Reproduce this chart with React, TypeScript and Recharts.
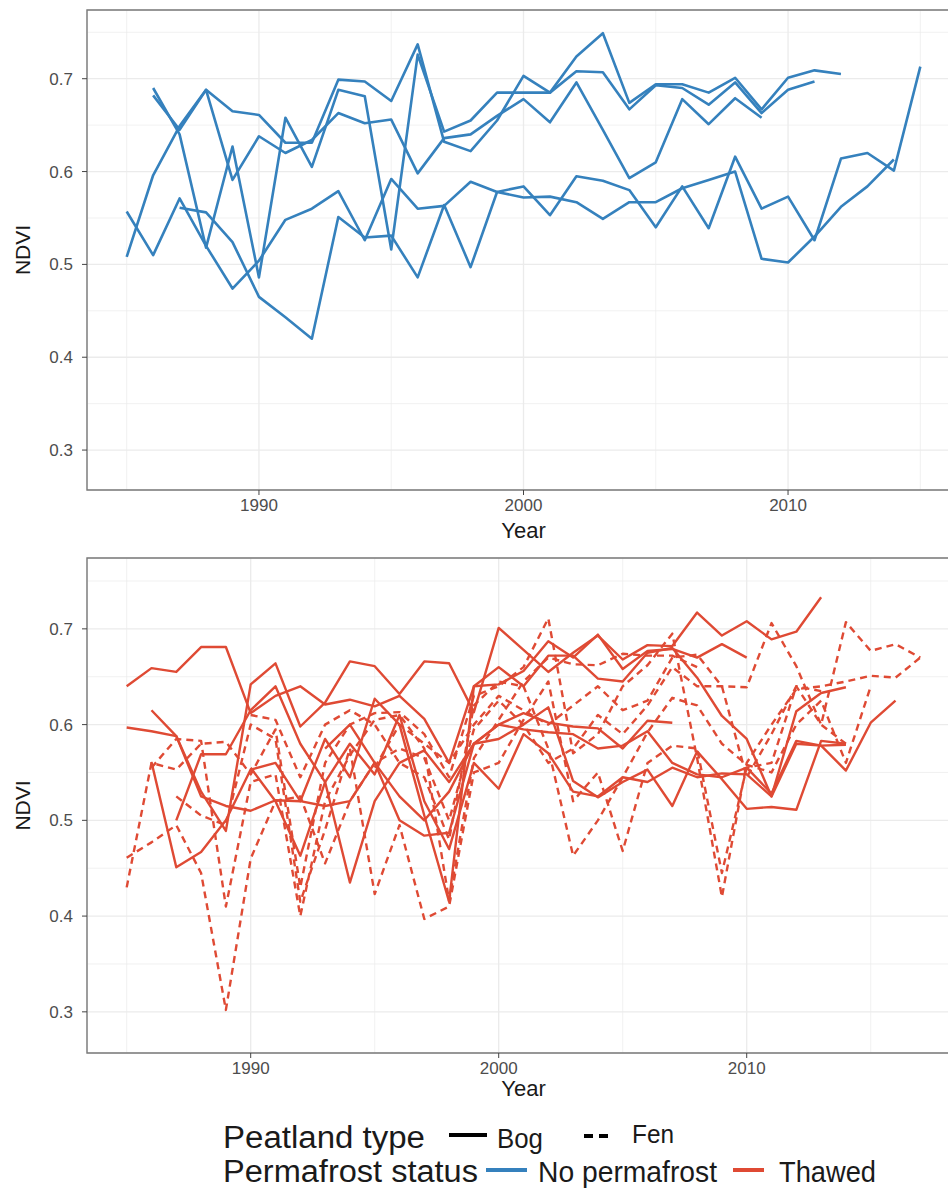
import React from 'react';
import { LineChart, Line, XAxis, YAxis, CartesianGrid, ReferenceArea } from 'recharts';

const FONT = '"Liberation Sans", Arial, sans-serif';
const BLUE = '#3581BD';
const RED = '#DF4A34';
const GRID = '#EBEBEB';
const FRAME = '#7a7a7a';

// x categories
const yearsTop = [1985, 1986, 1987, 1988, 1989, 1990, 1991, 1992, 1993, 1994, 1995, 1996, 1997, 1998, 1999, 2000, 2001, 2002, 2003, 2004, 2005, 2006, 2007, 2008, 2009, 2010, 2011, 2012, 2013, 2014, 2015];
const yearsBottom = [1985, 1986, 1987, 1988, 1989, 1990, 1991, 1992, 1993, 1994, 1995, 1996, 1997, 1998, 1999, 2000, 2001, 2002, 2003, 2004, 2005, 2006, 2007, 2008, 2009, 2010, 2011, 2012, 2013, 2014, 2015, 2016, 2017];

const yTicks = [0.3, 0.4, 0.5, 0.6, 0.7];
const yMinor = [0.35, 0.45, 0.55, 0.65, 0.75];
const xTicks = [1990, 2000, 2010];
const xMinor = [1985, 1995, 2005, 2015];

// No permafrost, bog (top panel), 1985-2015
const noPerm1 = [0.508, 0.596, 0.649, 0.688, 0.665, 0.661, 0.631, 0.631, 0.699, 0.697, 0.676, 0.737, 0.632, 0.622, 0.655, 0.703, 0.685, 0.724, 0.749, 0.674, 0.694, 0.694, 0.685, 0.701, 0.667, 0.701, 0.709, 0.705, null, null, null];
const noPerm2 = [null, 0.690, 0.640, 0.518, 0.627, 0.486, 0.658, 0.605, 0.688, 0.681, 0.516, 0.726, 0.643, 0.655, 0.685, 0.685, 0.685, 0.708, 0.707, 0.667, 0.693, 0.690, 0.672, 0.696, 0.663, 0.688, 0.697, null, null, null, null];
const noPerm3 = [null, 0.682, 0.645, 0.688, 0.591, 0.638, 0.620, 0.634, 0.663, 0.652, 0.656, 0.598, 0.636, 0.640, 0.660, 0.678, 0.653, 0.696, 0.645, 0.593, 0.610, 0.678, 0.651, 0.679, 0.658, null, null, null, null, null, null];
const noPerm4 = [null, null, 0.561, 0.556, 0.524, 0.465, 0.443, 0.420, 0.551, 0.529, 0.531, 0.486, 0.564, 0.497, 0.578, 0.572, 0.573, 0.567, 0.549, 0.567, 0.567, 0.582, 0.591, 0.600, 0.506, 0.502, 0.530, 0.562, 0.584, 0.613, null];
const noPerm5 = [0.557, 0.510, 0.571, 0.520, 0.474, 0.504, 0.548, 0.560, 0.579, 0.526, 0.592, 0.560, 0.563, 0.589, 0.578, 0.584, 0.553, 0.595, 0.590, 0.580, 0.540, 0.584, 0.539, 0.616, 0.560, 0.573, 0.526, 0.614, 0.620, 0.601, 0.713];

// Thawed, bog (solid), 1985-2017
const thawBog1 = [0.640, 0.659, 0.655, 0.681, 0.681, 0.612, 0.630, 0.640, 0.621, 0.626, 0.619, 0.630, 0.606, 0.560, 0.640, 0.642, 0.656, 0.687, 0.670, 0.694, 0.658, 0.677, 0.679, 0.670, 0.684, 0.670, null, null, null, null, null, null, null];
const thawBog2 = [0.597, 0.593, 0.588, 0.525, 0.515, 0.510, 0.521, 0.520, 0.515, 0.520, 0.560, 0.525, 0.500, 0.530, 0.580, 0.600, 0.595, 0.592, 0.590, 0.575, 0.578, 0.593, 0.560, 0.548, 0.545, 0.555, 0.528, 0.583, 0.578, 0.552, 0.602, 0.625, null];
const thawBog3 = [null, 0.615, 0.588, 0.530, 0.489, 0.642, 0.664, 0.598, 0.623, 0.666, 0.661, 0.632, 0.666, 0.664, 0.613, 0.701, 0.678, 0.655, 0.675, 0.693, 0.668, 0.683, 0.682, 0.717, 0.693, 0.708, 0.689, 0.697, 0.733, null, null, null, null];
const thawBog4 = [null, 0.561, 0.451, 0.467, 0.500, 0.553, 0.560, 0.520, 0.585, 0.545, 0.627, 0.600, 0.505, 0.415, 0.640, 0.660, 0.640, 0.672, 0.672, 0.648, 0.645, 0.675, 0.680, 0.649, 0.609, 0.585, 0.525, 0.614, 0.633, 0.639, null, null, null];
const thawBog5 = [null, null, 0.500, 0.569, 0.569, 0.615, 0.640, 0.580, 0.540, 0.435, 0.520, 0.560, 0.573, 0.540, 0.580, 0.585, 0.600, 0.618, 0.541, 0.524, 0.540, 0.553, 0.515, 0.572, 0.543, 0.512, 0.514, 0.511, 0.583, 0.580, null, null, null];
const thawBog6 = [null, null, null, null, null, 0.555, 0.520, 0.463, 0.540, 0.580, 0.548, 0.610, 0.520, 0.470, 0.560, 0.533, 0.590, 0.570, 0.530, 0.525, 0.545, 0.540, 0.555, 0.545, 0.549, 0.548, 0.525, 0.580, 0.578, 0.579, null, null, null];
const thawBog7 = [null, null, null, null, null, null, null, null, 0.575, 0.600, 0.560, 0.500, 0.484, 0.487, 0.580, 0.600, 0.612, 0.602, 0.598, 0.596, 0.575, 0.604, 0.602, null, null, null, null, null, null, null, null, null, null];

// Thawed, fen (dashed), 1985-2017
const thawFen1 = [0.430, 0.560, 0.553, 0.580, 0.582, 0.548, 0.595, 0.430, 0.560, 0.600, 0.612, 0.613, 0.590, 0.545, 0.630, 0.640, 0.660, 0.711, 0.570, 0.590, 0.640, 0.662, 0.695, 0.565, 0.420, 0.560, 0.600, 0.637, 0.640, 0.645, 0.651, 0.649, 0.670];
const thawFen2 = [0.461, 0.477, 0.495, 0.445, 0.302, 0.460, 0.520, 0.525, 0.455, 0.520, 0.560, 0.575, 0.565, 0.500, 0.595, 0.625, 0.600, 0.560, 0.575, 0.610, 0.590, 0.620, 0.660, 0.640, 0.640, 0.639, 0.706, 0.661, 0.600, 0.707, 0.677, 0.684, 0.670];
const thawFen3 = [null, 0.555, 0.585, 0.583, 0.410, 0.540, 0.548, 0.400, 0.520, 0.568, 0.605, 0.610, 0.575, 0.416, 0.565, 0.605, 0.645, 0.670, 0.663, 0.662, 0.674, 0.672, 0.672, 0.660, null, null, null, null, null, null, null, null, null];
const thawFen4 = [null, null, 0.525, 0.505, 0.495, 0.600, 0.585, 0.415, 0.490, 0.575, 0.423, 0.495, 0.397, 0.410, 0.550, 0.560, 0.605, 0.645, 0.520, 0.550, 0.468, 0.560, 0.578, 0.575, 0.445, 0.555, 0.560, 0.640, 0.600, 0.580, null, null, null];
const thawFen5 = [null, null, null, null, null, 0.610, 0.605, 0.545, 0.600, 0.615, 0.600, 0.560, 0.545, 0.480, 0.620, 0.645, 0.640, 0.575, 0.463, 0.500, 0.545, 0.592, 0.628, 0.620, 0.580, 0.558, 0.550, 0.600, 0.625, 0.560, 0.640, null, null];
const thawFen6 = [null, null, null, null, null, null, null, null, null, null, 0.555, 0.600, 0.580, 0.560, 0.600, 0.630, 0.615, 0.600, 0.620, 0.640, 0.615, 0.625, 0.670, 0.673, 0.640, 0.545, 0.590, 0.640, 0.635, null, null, null, null];

const topSeries = [noPerm1, noPerm2, noPerm3, noPerm4, noPerm5];
const bogSeries = [thawBog1, thawBog2, thawBog3, thawBog4, thawBog5, thawBog6, thawBog7];
const fenSeries = [thawFen1, thawFen2, thawFen3, thawFen4, thawFen5, thawFen6];

const topRows = yearsTop.map((year, i) => {
  const row: any = { year };
  topSeries.forEach((s, k) => { row['np' + k] = s[i]; });
  return row;
});

const bottomRows = yearsBottom.map((year, i) => {
  const row: any = { year };
  bogSeries.forEach((s, k) => { row['bog' + k] = s[i]; });
  fenSeries.forEach((s, k) => { row['fen' + k] = s[i]; });
  return row;
});

const tickStyle = { fill: '#4D4D4D', fontSize: 17, fontFamily: FONT };

const ndviLabel = (props: any) => {
  const vb = props.viewBox;
  const cy = vb.y + vb.height / 2;
  return (
    <text x={22} y={cy} transform={`rotate(-90 22 ${cy})`} textAnchor="middle" dominantBaseline="central"
      fontSize={21} fontFamily={FONT} fill="#1a1a1a">NDVI</text>
  );
};

const yearLabel = (props: any) => {
  const vb = props.viewBox;
  return (
    <text x={vb.x + vb.width / 2} y={vb.y + vb.height - 7} textAnchor="middle"
      fontSize={22} fontFamily={FONT} fill="#1a1a1a">Year</text>
  );
};

function Panel({ rows, xDomain, top, height, children }: any) {
  return (
    <LineChart width={1000} height={height} data={rows} margin={{ top, right: 40, bottom: 0, left: 0 }}>
      <CartesianGrid stroke={GRID} strokeWidth={0.7} horizontalValues={yMinor} verticalValues={xMinor} />
      <CartesianGrid stroke={GRID} strokeWidth={1.3} />
      <XAxis dataKey="year" type="number" domain={xDomain} ticks={xTicks} allowDataOverflow
        height={height - top - (top === 10 ? 480 : 495)} tickSize={5} tickMargin={4}
        axisLine={false} tickLine={{ stroke: '#444' }} tick={tickStyle} label={yearLabel} />
      <YAxis type="number" domain={[0.257, 0.774]} ticks={yTicks} allowDataOverflow width={87}
        tickSize={5} tickMargin={9} axisLine={false} tickLine={{ stroke: '#444' }} tick={tickStyle}
        tickFormatter={(v: number) => v.toFixed(1)} label={ndviLabel} />
      {children}
      <ReferenceArea x1={xDomain[0]} x2={xDomain[1]} y1={0.257} y2={0.774} fill="none"
        stroke={FRAME} strokeWidth={1.4} ifOverflow="visible" />
    </LineChart>
  );
}

function Legend() {
  return (
    <svg width={948} height={90} style={{ position: 'absolute', left: 0, top: 1100 }} fontFamily={FONT}>
      <text x={223} y={48} fontSize={31} fill="#1a1a1a" textLength={202} lengthAdjust="spacingAndGlyphs">Peatland type</text>
      <line x1={449} x2={487} y1={35} y2={35} stroke="#000" strokeWidth={4} />
      <text x={497} y={48} fontSize={27} fill="#1a1a1a" textLength={46} lengthAdjust="spacingAndGlyphs">Bog</text>
      <line x1={584} x2={612} y1={36} y2={36} stroke="#000" strokeWidth={4} strokeDasharray="9 6" />
      <text x={632} y={43} fontSize={26} fill="#1a1a1a" textLength={42} lengthAdjust="spacingAndGlyphs">Fen</text>
      <text x={223} y={82} fontSize={31} fill="#1a1a1a" textLength={255} lengthAdjust="spacingAndGlyphs">Permafrost status</text>
      <line x1={486} x2={527} y1={70} y2={70} stroke={BLUE} strokeWidth={4} />
      <text x={538} y={82} fontSize={29} fill="#1a1a1a" textLength={179} lengthAdjust="spacingAndGlyphs">No permafrost</text>
      <line x1={733} x2={764} y1={70} y2={70} stroke={RED} strokeWidth={4} />
      <text x={779} y={82} fontSize={29} fill="#1a1a1a" textLength={97} lengthAdjust="spacingAndGlyphs">Thawed</text>
    </svg>
  );
}

export default function App() {
  return (
    <div style={{ position: 'absolute', left: 0, top: 0, width: 948, height: 1190, overflow: 'hidden', background: '#fff' }}>
      <div style={{ position: 'absolute', left: 0, top: 0 }}>
        <Panel rows={topRows} xDomain={[1983.5, 2016.5]} top={10} height={545}>
          {topSeries.map((_, k) => (
            <Line key={'np' + k} dataKey={'np' + k} stroke={BLUE} strokeWidth={2.6} dot={false}
              isAnimationActive={false} strokeLinejoin="round" />
          ))}
        </Panel>
      </div>
      <div style={{ position: 'absolute', left: 0, top: 545 }}>
        <Panel rows={bottomRows} xDomain={[1983.4, 2018.6]} top={13} height={558}>
          {bogSeries.map((_, k) => (
            <Line key={'bog' + k} dataKey={'bog' + k} stroke={RED} strokeWidth={2.4} dot={false}
              isAnimationActive={false} strokeLinejoin="round" />
          ))}
          {fenSeries.map((_, k) => (
            <Line key={'fen' + k} dataKey={'fen' + k} stroke={RED} strokeWidth={2.4} dot={false}
              strokeDasharray="7 5" isAnimationActive={false} strokeLinejoin="round" />
          ))}
        </Panel>
      </div>
      <Legend />
    </div>
  );
}
